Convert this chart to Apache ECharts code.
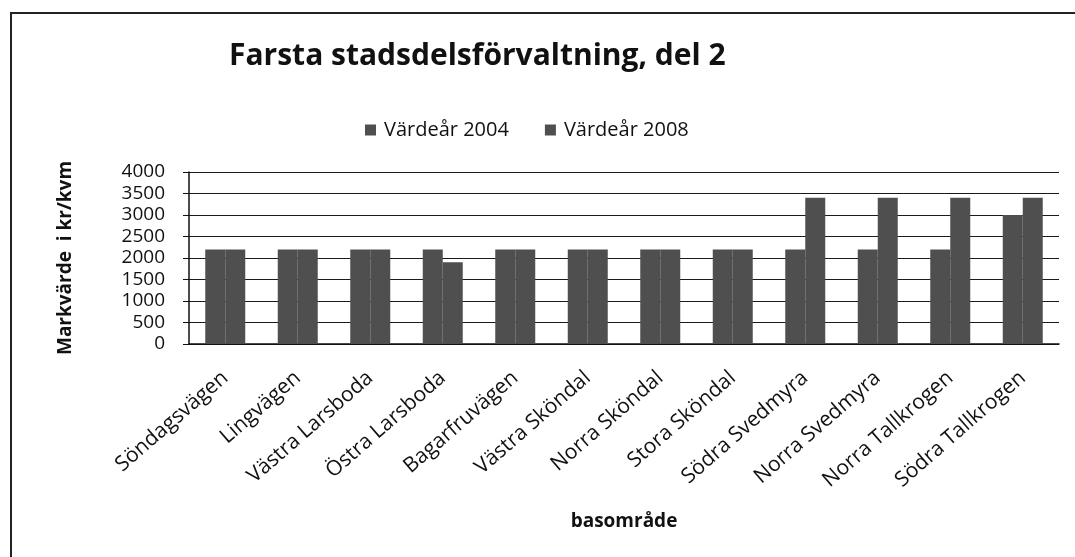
<!DOCTYPE html>
<html>
<head>
<meta charset="utf-8">
<script src="https://cdn.jsdelivr.net/npm/echarts@6/dist/echarts.min.js"></script>
<style>
  html, body { margin: 0; padding: 0; background: #fff; }
  #chart { width: 1075px; height: 557px; }
</style>
</head>
<body>
<div id="chart"></div>
<script>
// Basområden i Farsta, del 2
const categories = [
  'Söndagsvägen', 'Lingvägen', 'Västra Larsboda', 'Östra Larsboda',
  'Bagarfruvägen', 'Västra Sköndal', 'Norra Sköndal', 'Stora Sköndal',
  'Södra Svedmyra', 'Norra Svedmyra', 'Norra Tallkrogen', 'Södra Tallkrogen'
];
// Markvärde i kr/kvm per värdeår
const values2004 = [2200, 2200, 2200, 2200, 2200, 2200, 2200, 2200, 2200, 2200, 2200, 3000];
const values2008 = [2200, 2200, 2200, 1900, 2200, 2200, 2200, 2200, 3400, 3400, 3400, 3400];
const yTicks = { min: 0, max: 4000, interval: 500 };

const FONT = 'Open Sans';
const barStyle = { color: '#4f4f4f', borderWidth: 0 };

const chart = echarts.init(document.getElementById('chart'), null, { renderer: 'canvas' });
chart.setOption({
  backgroundColor: '#fff',
  animation: false,
  title: {
    text: 'Farsta stadsdelsförvaltning, del 2',
    left: 224,
    top: 36,
    textStyle: { fontFamily: FONT, fontWeight: 'bold', fontSize: 30, color: '#111' }
  },
  legend: {
    top: 115,
    left: 360,
    itemGap: 36,
    itemWidth: 11,
    itemHeight: 11,
    icon: 'rect',
    textStyle: { fontFamily: FONT, fontSize: 20, color: '#111', padding: [0, 0, 0, 3] },
    data: ['Värdeår 2004', 'Värdeår 2008']
  },
  graphic: [{
    type: 'rect',
    silent: true,
    shape: { x: 11, y: 13, width: 1200, height: 700 },
    style: { fill: 'none', stroke: '#222', lineWidth: 2 }
  }],
  grid: { left: 189, right: 16, top: 172, bottom: 213 },
  xAxis: {
    type: 'category',
    data: categories,
    name: 'basområde',
    nameLocation: 'middle',
    nameGap: 168,
    nameTextStyle: { fontFamily: FONT, fontWeight: 'bold', fontSize: 19, color: '#111' },
    axisLine: { lineStyle: { color: '#111', width: 1.5 } },
    axisTick: { show: false },
    axisLabel: {
      rotate: 41, interval: 0, margin: 31,
      fontFamily: FONT, fontSize: 21, color: '#111'
    }
  },
  yAxis: {
    type: 'value',
    min: yTicks.min,
    max: yTicks.max,
    interval: yTicks.interval,
    name: 'Markvärde  i kr/kvm',
    nameLocation: 'middle',
    nameGap: 114,
    nameTextStyle: { fontFamily: FONT, fontWeight: 'bold', fontSize: 19, color: '#111' },
    axisLine: { show: true, lineStyle: { color: '#111', width: 1.5 } },
    axisTick: { show: true, length: 6, lineStyle: { color: '#111' } },
    axisLabel: {
      fontFamily: FONT, fontSize: 19, color: '#111', margin: 24,
      formatter: v => String(v)
    },
    splitLine: { lineStyle: { color: '#1a1a1a', width: 1.2 } }
  },
  series: [
    {
      name: 'Värdeår 2004',
      type: 'bar',
      data: values2004,
      barWidth: 20,
      barGap: '0%',
      itemStyle: barStyle
    },
    {
      name: 'Värdeår 2008',
      type: 'bar',
      data: values2008,
      barWidth: 20,
      barGap: '0%',
      itemStyle: barStyle
    }
  ]
});
</script>
</body>
</html>
